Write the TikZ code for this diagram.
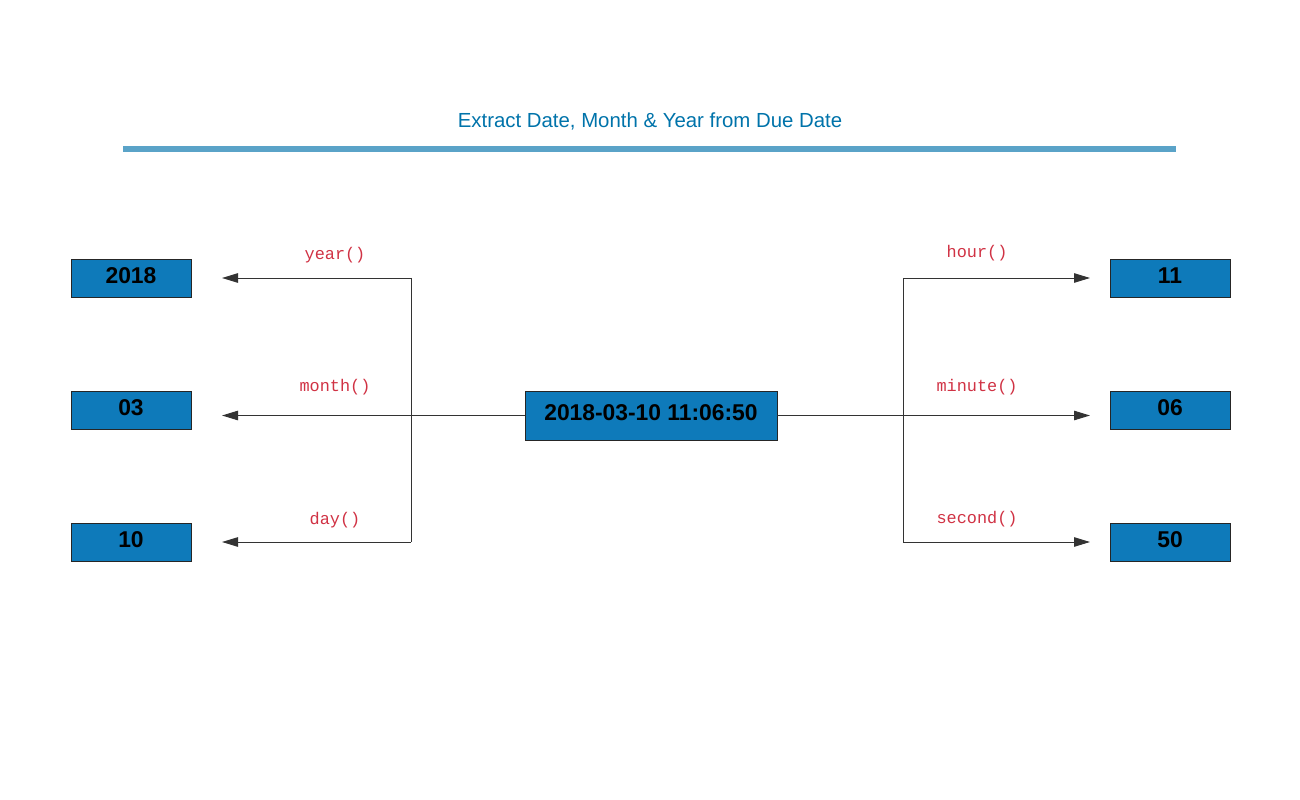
\documentclass[tikz,border=0pt]{standalone}
\usepackage{fontspec}
\setmainfont{Liberation Sans}
\setmonofont{Liberation Mono}
\usetikzlibrary{arrows.meta,positioning}
\definecolor{titleblue}{RGB}{0,115,170}
\definecolor{ruleblue}{RGB}{90,163,200}
\definecolor{boxblue}{RGB}{14,122,186}
\definecolor{funcred}{RGB}{208,50,68}

\begin{document}
\begin{tikzpicture}[x=0.02cm, y=-0.02cm, >={Triangle[length=0.32cm, width=0.19cm]},
    valbox/.style={draw=black!85, fill=boxblue, line width=0.45pt, inner sep=0pt,
        minimum width=2.4cm, minimum height=0.76cm, text height=9.3pt, text depth=3.5pt,
        font=\fontsize{13}{15}\selectfont\bfseries},
    funclabel/.style={font=\fontsize{9.6}{11}\selectfont\ttfamily, text=funcred},
    wire/.style={line width=0.55pt, draw=black!80}]
    \useasboundingbox (0,0) rectangle (1300,800);
    % Title
    \node[font=\fontsize{11.6}{14}\selectfont, text=titleblue] (title) at (650,121) {Extract Date, Month \& Year from Due Date};
    \coordinate (ruleL) at (123,149);
    \coordinate (ruleR) at (1176,149);
    \draw[ruleblue, line width=2.85pt] (ruleL) -- (ruleR);

    % Due date
    \node[valbox, minimum width=5.04cm, minimum height=0.98cm] (due) at (651,415.5) {2018-03-10 11:06:50};

    % Date parts
    \node[valbox] (year) at (131,278) {2018};
    \node[valbox] (month) at (131,410) {03};
    \node[valbox] (day) at (131,542) {10};
    % Time parts
    \node[valbox] (hour) at (1170,278) {11};
    \node[valbox] (minute) at (1170,410) {06};
    \node[valbox] (second) at (1170,542) {50};

    % Left branch
    \coordinate (jlTop) at (411,278);
    \coordinate (jlBot) at (411,542);
    \coordinate (tipYear) at (222,278);
    \coordinate (tipMonth) at (222,415.5);
    \coordinate (tipDay) at (222,542);
    \draw[wire] (jlTop) -- (jlBot);
    \draw[wire,->] (jlTop) -- (tipYear);
    \draw[wire,->] (due.west) -- (tipMonth);
    \draw[wire,->] (jlBot) -- (tipDay);
    \node[funclabel] (fyear) at (335,255) {year()};
    \node[funclabel] (fmonth) at (335,387) {month()};
    \node[funclabel] (fday) at (335,520) {day()};

    % Right branch
    \coordinate (jrTop) at (903,278);
    \coordinate (jrBot) at (903,542);
    \coordinate (tipHour) at (1090,278);
    \coordinate (tipMinute) at (1090,415.5);
    \coordinate (tipSecond) at (1090,542);
    \draw[wire] (jrTop) -- (jrBot);
    \draw[wire,->] (jrTop) -- (tipHour);
    \draw[wire,->] (due.east) -- (tipMinute);
    \draw[wire,->] (jrBot) -- (tipSecond);
    \node[funclabel] (fhour) at (977,253) {hour()};
    \node[funclabel] (fminute) at (977,387) {minute()};
    \node[funclabel] (fsecond) at (977,519) {second()};
\end{tikzpicture}
\end{document}
